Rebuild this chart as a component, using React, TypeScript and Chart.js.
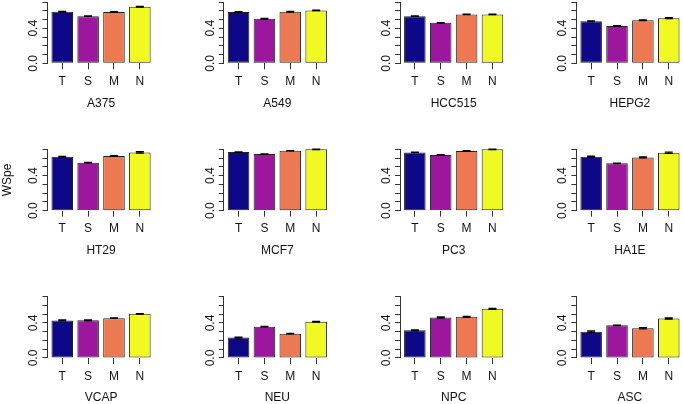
import React, { useEffect, useRef } from 'react';
import { Chart, registerables } from 'chart.js';

Chart.register(...registerables);
Chart.defaults.font.family = '"Liberation Sans", Arial, Helvetica, sans-serif';
Chart.defaults.font.size = 12;
Chart.defaults.color = '#111';

// ---------- data ----------
const groups = ['T', 'S', 'M', 'N'];
const groupPositions = [0.7, 1.9, 3.1, 4.3];
const groupColors = ['#0D0887', '#9C179E', '#ED7953', '#F0F921'];
const yTickValues = [0, 0.1, 0.2, 0.3, 0.4, 0.5, 0.6, 0.7];
const yTickLabels = ['0.0', '', '', '', '0.4', '', '', ''];
const yTitle = 'WSpe';

const panelNames = ['A375', 'A549', 'HCC515', 'HEPG2', 'HT29', 'MCF7', 'PC3', 'HA1E', 'VCAP', 'NEU', 'NPC', 'ASC'];

const A375 = [0.588, 0.538, 0.585, 0.646];
const A549 = [0.585, 0.508, 0.588, 0.604];
const HCC515 = [0.538, 0.462, 0.558, 0.558];
const HEPG2 = [0.48, 0.427, 0.492, 0.515];
const HT29 = [0.616, 0.548, 0.624, 0.665];
const MCF7 = [0.669, 0.646, 0.684, 0.7];
const PC3 = [0.665, 0.635, 0.681, 0.7];
const HA1E = [0.616, 0.54, 0.608, 0.662];
const VCAP = [0.429, 0.43, 0.455, 0.504];
const NEU = [0.233, 0.358, 0.278, 0.414];
const NPC = [0.316, 0.463, 0.47, 0.561];
const ASC = [0.301, 0.373, 0.339, 0.452];

const A375_err = [0.004, 0.003, 0.004, 0.004];
const A549_err = [0.005, 0.006, 0.005, 0.004];
const HCC515_err = [0.003, 0.004, 0.003, 0.003];
const HEPG2_err = [0.004, 0.003, 0.005, 0.006];
const HT29_err = [0.005, 0.004, 0.004, 0.008];
const MCF7_err = [0.003, 0.004, 0.003, 0.004];
const PC3_err = [0.003, 0.004, 0.005, 0.004];
const HA1E_err = [0.007, 0.004, 0.006, 0.008];
const VCAP_err = [0.006, 0.005, 0.004, 0.004];
const NEU_err = [0.006, 0.004, 0.004, 0.005];
const NPC_err = [0.006, 0.007, 0.006, 0.005];
const ASC_err = [0.009, 0.004, 0.008, 0.007];

const panelValues = [A375, A549, HCC515, HEPG2, HT29, MCF7, PC3, HA1E, VCAP, NEU, NPC, ASC];
const panelErrors = [A375_err, A549_err, HCC515_err, HEPG2_err, HT29_err, MCF7_err, PC3_err, HA1E_err, VCAP_err, NEU_err, NPC_err, ASC_err];

// ---------- layout (styles) ----------
const COL_PITCH = 176.3;
const ROW_PITCH = 147.35;
const FIRST_PLOT_LEFT = 47.5;
const FIRST_ZERO_Y = 63.3;
const PLOT_W = 107.1;
const PLOT_H = 61.3;
const Y_AXIS_W = 47;
const X_AXIS_H = 47.2;
const CAP_HALF = 4;

const errorBarPlugin = {
  id: 'errorBars',
  afterDatasetsDraw(chart: any, _args: any, opts: any) {
    const meta = chart.getDatasetMeta(0);
    const ds = chart.data.datasets[0];
    const y = chart.scales.y;
    const ctx = chart.ctx;
    const errs: number[] = opts.errors || [];
    ctx.save();
    ctx.strokeStyle = '#000';
    ctx.lineWidth = 1.2;
    meta.data.forEach((el: any, i: number) => {
      const v = ds.data[i].y;
      const e = errs[i] || 0;
      const x = el.x;
      const y1 = y.getPixelForValue(v + e);
      const y2 = y.getPixelForValue(v - e);
      ctx.beginPath();
      ctx.moveTo(x, y1);
      ctx.lineTo(x, y2);
      ctx.moveTo(x - CAP_HALF, y1);
      ctx.lineTo(x + CAP_HALF, y1);
      ctx.moveTo(x - CAP_HALF, y2);
      ctx.lineTo(x + CAP_HALF, y2);
      ctx.stroke();
    });
    ctx.restore();
  },
};

function Panel({ index }: { index: number }) {
  const ref = useRef<HTMLCanvasElement>(null);
  const row = Math.floor(index / 4);
  const col = index % 4;
  const plotLeft = FIRST_PLOT_LEFT + col * COL_PITCH;
  const zeroY = FIRST_ZERO_Y + row * ROW_PITCH;
  const topY = zeroY - PLOT_H;
  const canvasLeft = Math.max(0, Math.floor(plotLeft - Y_AXIS_W));
  const canvasTop = Math.floor(topY - 8);
  const yW = plotLeft - canvasLeft;
  const padTop = topY - canvasTop;
  const W = Math.ceil(plotLeft + PLOT_W + 3) - canvasLeft;
  const H = Math.ceil(zeroY + X_AXIS_H + 2) - canvasTop;
  const padRight = W - yW - PLOT_W;
  const padBottom = H - padTop - PLOT_H - X_AXIS_H;
  const showYTitle = index === 4;

  useEffect(() => {
    if (!ref.current) return;
    const values = panelValues[index];
    const chart = new Chart(ref.current, {
      type: 'bar',
      data: {
        datasets: [
          {
            data: values.map((v, i) => ({ x: groupPositions[i], y: v })),
            backgroundColor: groupColors,
            borderColor: '#222',
            borderWidth: 1,
            borderSkipped: false,
            barPercentage: 1,
            categoryPercentage: 1 / 1.2,
            clip: false as any,
          } as any,
        ],
      },
      options: {
        responsive: false,
        animation: false,
        devicePixelRatio: 1,
        layout: { padding: { left: 0, top: padTop, right: padRight, bottom: padBottom } },
        plugins: {
          legend: { display: false },
          tooltip: { enabled: false },
          errorBars: { errors: panelErrors[index] },
        } as any,
        scales: {
          x: {
            type: 'linear',
            min: 0.016,
            max: 4.984,
            offset: false,
            grid: { display: true, drawOnChartArea: false, drawTicks: true, tickLength: 6, color: '#333', offset: false },
            border: { display: false },
            afterBuildTicks: (scale: any) => {
              scale.ticks = groupPositions.map((v) => ({ value: v }));
            },
            afterFit: (scale: any) => {
              scale.height = X_AXIS_H;
            },
            ticks: {
              autoSkip: false,
              maxRotation: 0,
              minRotation: 0,
              padding: 5,
              color: '#111',
              font: { size: 12 },
              callback: (_v: any, i: number) => groups[i],
            },
            title: {
              display: true,
              text: panelNames[index],
              color: '#111',
              font: { size: 12 },
              padding: { top: 0, bottom: 0 },
            },
          },
          y: {
            type: 'linear',
            min: 0,
            max: 0.7,
            grid: { display: true, drawOnChartArea: false, drawTicks: true, tickLength: 5, color: '#333' },
            border: { display: true, color: '#333', width: 1 },
            afterBuildTicks: (scale: any) => {
              scale.ticks = yTickValues.map((v) => ({ value: v }));
            },
            afterFit: (scale: any) => {
              scale.width = yW;
            },
            ticks: {
              autoSkip: false,
              minRotation: 90,
              maxRotation: 90,
              crossAlign: 'center',
              padding: 0,
              color: '#111',
              font: { size: 12 },
              callback: (_v: any, i: number) => yTickLabels[i],
            },
            title: {
              display: showYTitle,
              text: yTitle,
              color: '#111',
              font: { size: 12 },
              padding: { top: 0, bottom: 0 },
            },
          },
        },
      } as any,
      plugins: [errorBarPlugin],
    });
    return () => chart.destroy();
  }, [index]);

  return (
    <canvas
      ref={ref}
      width={W}
      height={H}
      style={{ position: 'absolute', left: canvasLeft, top: canvasTop, width: W, height: H }}
    />
  );
}

export default function App() {
  return (
    <div
      style={{
        position: 'absolute',
        left: 0,
        top: 0,
        width: 683,
        height: 404,
        overflow: 'hidden',
        background: '#fff',
      }}
    >
      {panelNames.map((_, i) => (
        <Panel key={i} index={i} />
      ))}
    </div>
  );
}
